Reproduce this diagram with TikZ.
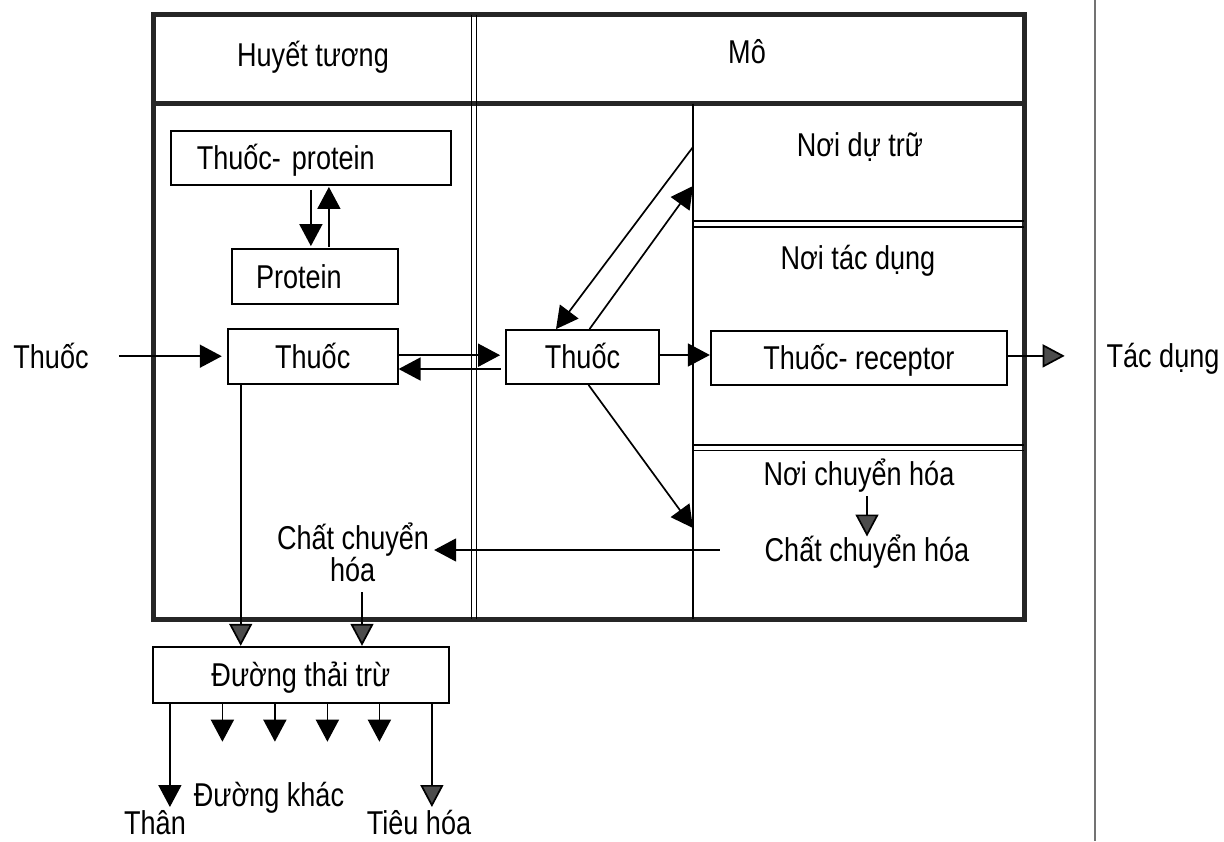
\documentclass[tikz,border=0pt]{standalone}
\usepackage{fontspec}
\setmainfont{Liberation Sans}[FakeStretch=0.82]
\usetikzlibrary{arrows.meta,calc}
\newcommand\diafont{\fontsize{33pt}{38pt}\selectfont}
\begin{document}
\begin{tikzpicture}[x=1pt,y=-1pt,font=\diafont,
  box/.style={draw, line width=1.8pt, inner sep=0pt, text height=23.6pt, text depth=0pt, align=center},
  txt/.style={inner sep=0pt, text height=23.6pt, text depth=0pt},
  arr/.style={line width=1.7pt, -{Triangle[length=22pt,width=23pt]}},
  arrg/.style={line width=1.7pt, -{Triangle[length=22pt,width=23pt,fill=black!70]}},
  frame/.style={line width=5pt, draw=black!85},
  divl/.style={line width=1.8pt, draw=black}]
\useasboundingbox[fill=white] (0,0) rectangle (1224,841);
% frame (plan)
\draw[frame] (153.3,14.5) rectangle (1024.3,619);
\draw[frame] (153.3,103.5) -- (1024.3,103.5);
\draw[divl] (471.5,14.5) -- (471.5,619);
\draw[divl] (476.5,14.5) -- (476.5,619);
\draw[divl] (693,103.5) -- (693,619);
\draw[divl] (693,221) -- (1024.3,221);
\draw[divl] (693,227) -- (1024.3,227);
\draw[divl] (693,445) -- (1024.3,445);
\draw[divl] (693,450.5) -- (1024.3,450.5);
\draw[black!55, line width=1.2pt] (1095,0) -- (1095,841);
% boxes
\node[box, minimum height=54.3pt, text width=228.3pt, align=left, inner xsep=26pt] (tp) at (310.9,157.9) {Thuốc- protein};
\node[box, minimum height=55pt, text width=117.4pt, align=left, inner xsep=24.3pt] (pr) at (314.7,276.5) {Protein};
\node[box, minimum width=170pt, minimum height=55pt] (tpl) at (312.7,356.2) {Thuốc};
\node[box, minimum width=153pt, minimum height=54pt] (tt) at (582.5,357) {Thuốc};
\node[box, minimum width=296.3pt, minimum height=54.3pt] (tr) at (858.9,357.9) {Thuốc- receptor};
\node[box, minimum width=296.3pt, minimum height=56pt] (dtt) at (300.9,674.7) {Đường thải trừ};
% labels
\node[txt] (hu) at (313,55) {Huyết tương};
\node[txt] (mo) at (747,52) {Mô};
\node[txt] (ndt) at (860,145) {Nơi dự trữ};
\node[txt] (ntd) at (858,258) {Nơi tác dụng};
\node[txt] (thuocL) at (51,356.2) {Thuốc};
\node[txt] (tacdung) at (1163,356) {Tác dụng};
\node[txt] (nch) at (859,474) {Nơi chuyển hóa};
\node[txt] (cchR) at (867,550) {Chất chuyển hóa};
\node[txt] (cchL1) at (353,537.5) {Chất chuyển};
\node[txt] (cchL2) at (352.7,570) {hóa};
\node[txt] (dk) at (269,795) {Đường khác};
\node[txt] (than) at (155,823) {Thân};
\node[txt] (th) at (419,823) {Tiêu hóa};
% connectors
\coordinate (dA) at (693,147);
\coordinate (dB) at (693,186);
\coordinate (dC) at (693,528);
\coordinate (sEnd) at (0,741.7);
\draw[arr, shorten <=30pt, shorten >=5pt] (thuocL.east) -- (tpl.west);
\draw[arr, shorten <=4pt, shorten >=2pt] (tp.south) -- (tp.south |- pr.north);
\draw[arr, shorten <=1pt, shorten >=1pt] ([xshift=18pt]tp.south |- pr.north) -- ([xshift=18pt]tp.south);
\draw[arr, shorten >=5pt] ([yshift=1pt]tpl.east) -- ([yshift=1pt]tpl.east -| tt.west);
\draw[arr, shorten <=4.5pt] ([yshift=-12pt]tt.west) -- ([yshift=-12pt]tt.west -| tpl.east);
\draw[arr] ([yshift=2pt]tt.east) -- ([yshift=2pt]tt.east -| tr.west);
\draw[arrg, shorten >=41.7pt] ([yshift=2pt]tr.east) -- ([yshift=2pt]tr.east -| tacdung.west);
\draw[arr] (dA) -- ([xshift=-26.5pt]tt.north);
\draw[arr] ([xshift=7pt]tt.north) -- (dB);
\draw[arr] ([xshift=6pt]tt.south) -- (dC);
\draw[arr, shorten <=44.7pt, shorten >=5pt] (cchR.west) -- (cchR.west -| cchL1.east);
\draw[arrg, shorten <=10pt] ([xshift=9.3pt]cchL2.south) -- ([xshift=9.3pt]cchL2.south |- dtt.north);
\draw[arrg] ([xshift=-72pt]tpl.south) -- ([xshift=-72pt]tpl.south |- dtt.north);
\foreach \dx in {-78.5,-26,26.5,78.5}
  \draw[arr] ([xshift=\dx pt]dtt.south) -- ([xshift=\dx pt]dtt.south |- sEnd);
\draw[arr, shorten >=4pt] ([xshift=-131pt]dtt.south) -- ([xshift=-131pt]dtt.south |- than.north);
\draw[arrg, shorten >=4pt] ([xshift=131pt]dtt.south) -- ([xshift=131pt]dtt.south |- th.north);
\draw[arrg, shorten <=10pt, shorten >=1.5pt] (cchR.north |- nch.south) -- (cchR.north);
\end{tikzpicture}
\end{document}
